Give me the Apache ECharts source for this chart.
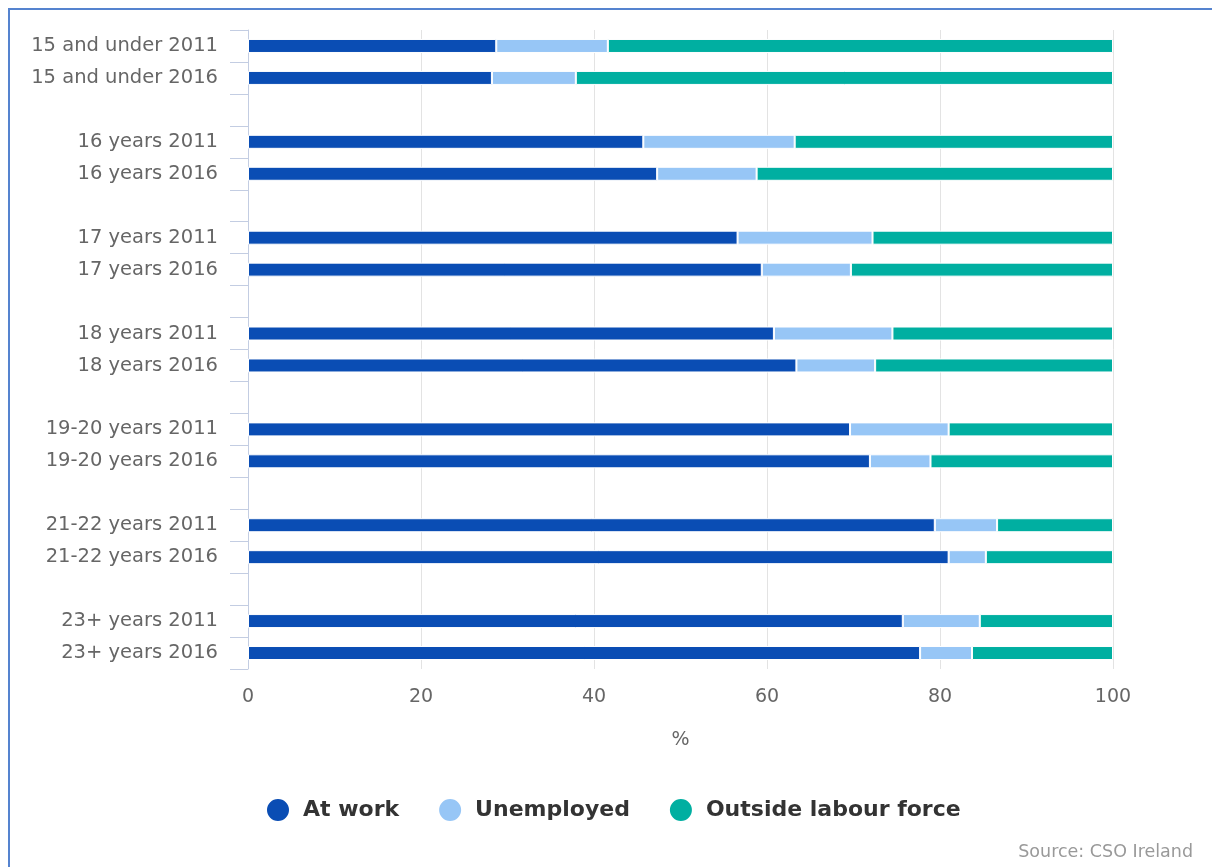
<!DOCTYPE html>
<html>
<head>
<meta charset="utf-8">
<title>Economic status of young people, 2011 and 2016</title>
<script src="https://cdn.jsdelivr.net/npm/echarts@6/dist/echarts.min.js"></script>
<style>
  html, body { margin: 0; padding: 0; background: #fff; }
  #frame {
    position: absolute; left: 8px; top: 8px; width: 1300px; height: 900px;
    border-left: 2px solid #5583cf; border-top: 2px solid #5583cf;
    box-sizing: border-box; pointer-events: none; z-index: 2;
  }
  #chart { position: absolute; left: 0; top: 0; width: 1212px; height: 867px; }
</style>
</head>
<body>
<div id="chart"></div>
<div id="frame"></div>
<script>
// Age groups, each shown for the two census years
const rowLabels = [
  '15 and under 2011', '15 and under 2016',
  '16 years 2011', '16 years 2016',
  '17 years 2011', '17 years 2016',
  '18 years 2011', '18 years 2016',
  '19-20 years 2011', '19-20 years 2016',
  '21-22 years 2011', '21-22 years 2016',
  '23+ years 2011', '23+ years 2016'
];

// Share of each row, %
const atWork     = [28.7, 28.2, 45.7, 47.3, 56.6, 59.4, 60.8, 63.4, 69.6, 71.9, 79.4, 81.0, 75.7, 77.7];
const unemployed = [12.9,  9.7, 17.5, 11.5, 15.6, 10.3, 13.7,  9.1, 11.4,  7.0,  7.2,  4.3,  8.9,  6.0];
const outside    = [58.4, 62.1, 36.8, 41.2, 27.8, 30.3, 25.5, 27.5, 19.0, 21.1, 13.4, 14.7, 15.4, 16.3];

const seriesNames = ['At work', 'Unemployed', 'Outside labour force'];
const xTicks = [0, 20, 40, 60, 80, 100];

// An empty slot separates each pair of years on the category axis
const categories = [];
const slotIndex = [];
rowLabels.forEach((label, i) => {
  if (i > 0 && i % 2 === 0) categories.push('\u200b'.repeat(i / 2));
  slotIndex.push(categories.length);
  categories.push(label);
});
function spread(values) {
  const out = categories.map(() => null);
  values.forEach((v, i) => { out[slotIndex[i]] = v; });
  return out;
}

const fontFamily = '"DejaVu Sans", Verdana, sans-serif';
const colors = ['#0a4db4', '#97c6f6', '#00afa1'];
const axisColor = '#c3cde2';

const chart = echarts.init(document.getElementById('chart'), null, { renderer: 'canvas' });
chart.setOption({
  animation: false,
  textStyle: { fontFamily },
  grid: { left: 248, right: 99, top: 30, bottom: 198, containLabel: false },
  xAxis: {
    type: 'value',
    min: xTicks[0], max: xTicks[xTicks.length - 1], interval: 20,
    name: '%', nameLocation: 'middle', nameGap: 62,
    nameTextStyle: { color: '#666', fontSize: 19, fontFamily },
    axisLine: { show: false },
    axisTick: { show: false },
    axisLabel: { color: '#666', fontSize: 19, margin: 19, fontFamily },
    splitLine: { lineStyle: { color: '#e3e3e3', width: 1 } }
  },
  yAxis: {
    type: 'category',
    inverse: true,
    data: categories,
    axisLine: { show: true, lineStyle: { color: axisColor, width: 1 } },
    axisTick: { show: true, length: 18, lineStyle: { color: axisColor, width: 1 } },
    axisLabel: { color: '#666', fontSize: 19.5, margin: 30, fontFamily },
    splitLine: { show: false }
  },
  legend: {
    left: 260, top: 792,
    icon: 'circle', itemWidth: 24, itemHeight: 24, itemGap: 38,
    textStyle: { color: '#333', fontSize: 22, fontWeight: 'bold', fontFamily, padding: [0, 0, 0, 8] },
    data: seriesNames
  },
  graphic: [{
    type: 'text', right: 19, top: 843,
    style: { text: 'Source: CSO Ireland', fill: '#999', fontSize: 17.5, fontFamily }
  }],
  series: [atWork, unemployed, outside].map((vals, k) => ({
    name: seriesNames[k],
    type: 'bar',
    stack: 'total',
    barWidth: 14,
    color: colors[k],
    itemStyle: { borderColor: '#fff', borderWidth: 1 },
    data: spread(vals)
  }))
});
</script>
</body>
</html>
